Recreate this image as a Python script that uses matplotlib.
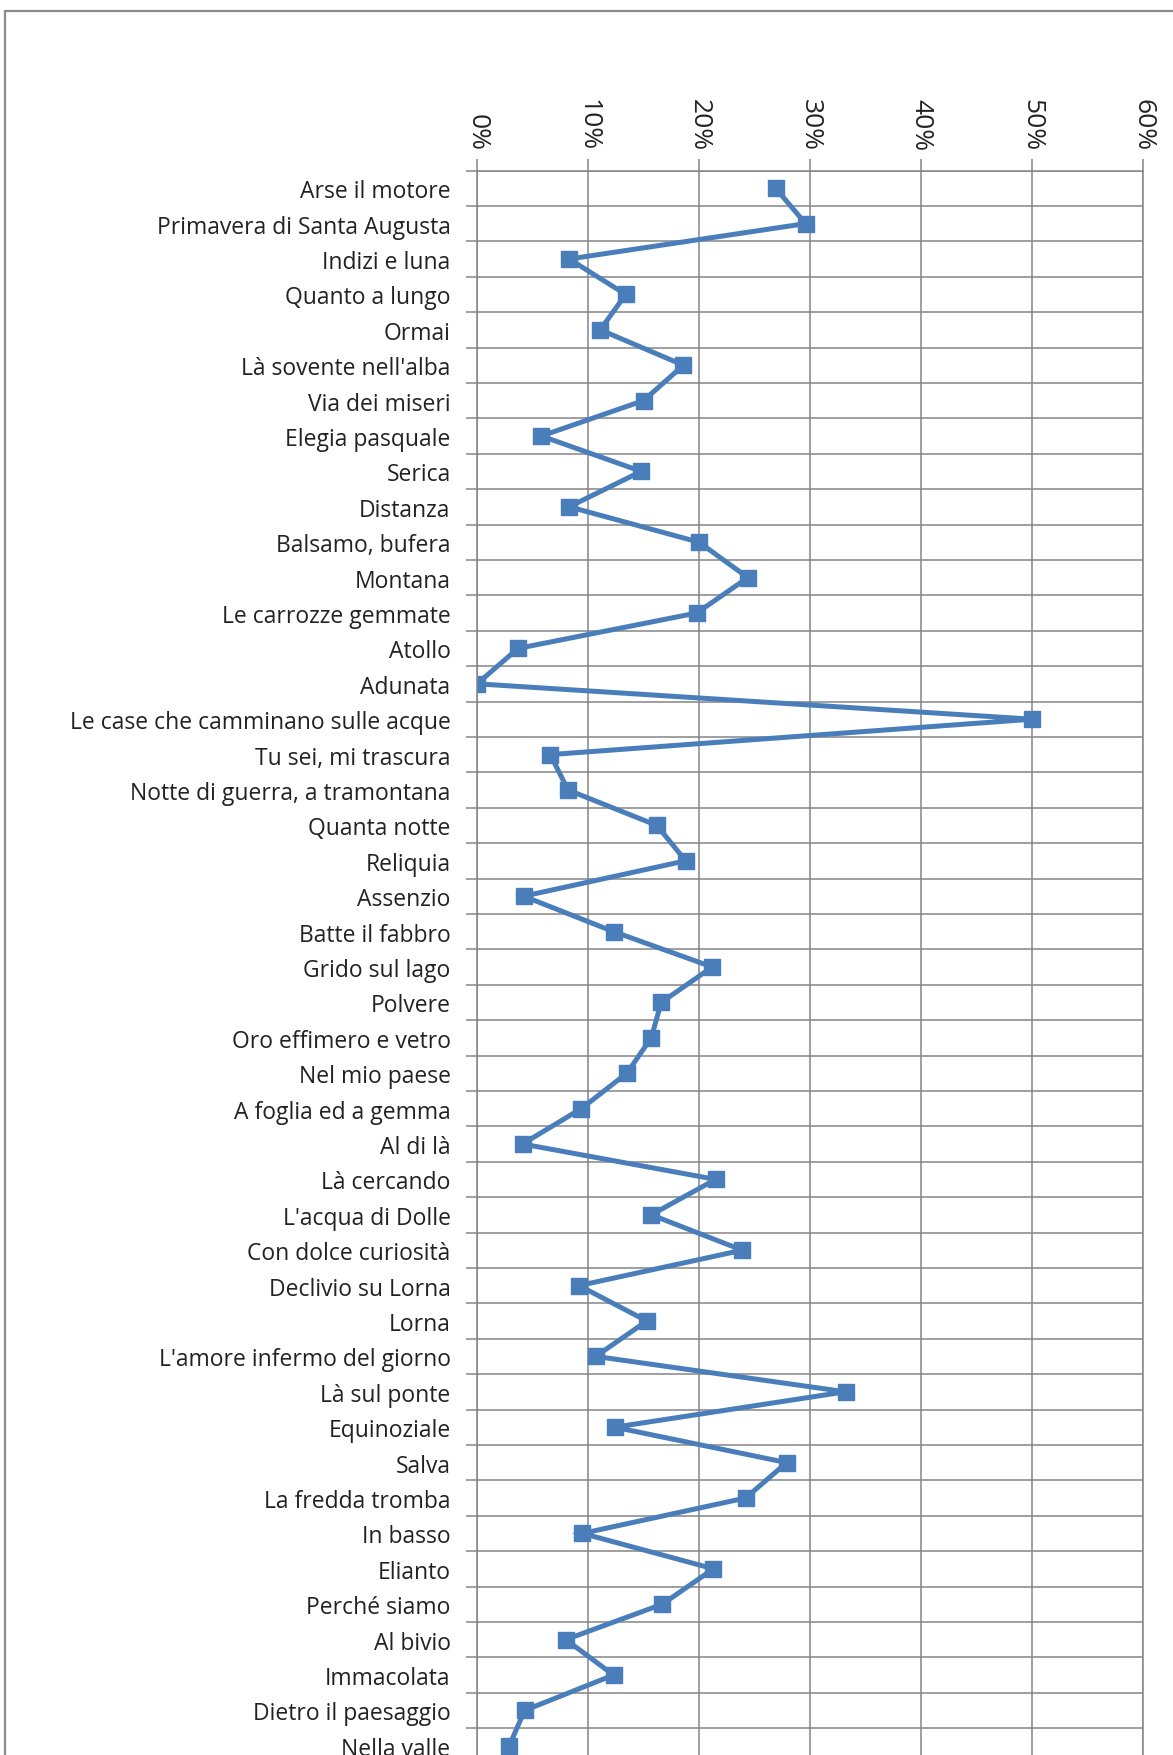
import matplotlib.pyplot as plt
from matplotlib.patches import Rectangle
from matplotlib.ticker import PercentFormatter, FixedLocator

titles = ['Arse il motore', 'Primavera di Santa Augusta', 'Indizi e luna', 'Quanto a lungo',
          'Ormai', "Là sovente nell'alba", 'Via dei miseri', 'Elegia pasquale', 'Serica',
          'Distanza', 'Balsamo, bufera', 'Montana', 'Le carrozze gemmate', 'Atollo', 'Adunata',
          'Le case che camminano sulle acque', 'Tu sei, mi trascura',
          'Notte di guerra, a tramontana', 'Quanta notte', 'Reliquia', 'Assenzio',
          'Batte il fabbro', 'Grido sul lago', 'Polvere', 'Oro effimero e vetro',
          'Nel mio paese', 'A foglia ed a gemma', 'Al di là', 'Là cercando',
          "L'acqua di Dolle", 'Con dolce curiosità', 'Declivio su Lorna', 'Lorna',
          "L'amore infermo del giorno", 'Là sul ponte', 'Equinoziale', 'Salva',
          'La fredda tromba', 'In basso', 'Elianto', 'Perché siamo', 'Al bivio',
          'Immacolata', 'Dietro il paesaggio', 'Nella valle']

values = [26.9, 29.6, 8.3, 13.4, 11.1, 18.6, 15.0, 5.8, 14.8, 8.3,
          20.0, 24.4, 19.8, 3.7, 0.0, 50.0, 6.6, 8.2, 16.2, 18.8,
          4.2, 12.3, 21.2, 16.6, 15.7, 13.5, 9.4, 4.1, 21.5, 15.7,
          23.9, 9.2, 15.3, 10.7, 33.2, 12.4, 27.9, 24.2, 9.5, 21.3,
          16.7, 8.0, 12.3, 4.3, 2.9]

xticks = [0, 10, 20, 30, 40, 50, 60]

grid_c = '#858585'
blue = '#4A7EBB'

plt.rcParams['font.family'] = ['Open Sans', 'DejaVu Sans']

W, H = 1173, 1756
fig = plt.figure(figsize=(W / 100, H / 100), dpi=100)

# outer chart frame (cut off at right and bottom like the screenshot)
fig.add_artist(Rectangle((5 / W, -0.2), 2, 1.2 - 12 / H, transform=fig.transFigure,
                         fill=False, edgecolor='#8a8a8a', lw=1.6))

n = len(titles)
row = 35.4
top = 171.5
ax = fig.add_axes([477 / W, 1 - (top + n * row) / H, 666 / W, n * row / H])

pos = list(range(n))
ax.plot(values, pos, color=blue, lw=3.6, marker='s', ms=11.5,
        mfc=blue, mec=blue, solid_joinstyle='miter')

ax.set_xlim(0, 60)
ax.set_ylim(n - 0.5, -0.5)

ax.xaxis.tick_top()
ax.set_xticks(xticks)
ax.xaxis.set_major_formatter(PercentFormatter(xmax=100, decimals=0))
ax.tick_params(axis='x', which='major', direction='out', length=8.5, width=1.1,
               color=grid_c, pad=6, labelsize=19, labelcolor='#222222',
               labelrotation=-90)

ax.set_yticks(pos)
ax.set_yticklabels(titles)
ax.yaxis.set_minor_locator(FixedLocator([i - 0.5 for i in range(n + 1)]))
ax.tick_params(axis='y', which='major', length=0, pad=19, labelsize=16.5,
               labelcolor='#222222')
ax.tick_params(axis='y', which='minor', direction='out', length=8, width=1.1,
               color=grid_c)

ax.grid(axis='x', which='major', color=grid_c, lw=1.1)
ax.grid(axis='y', which='minor', color=grid_c, lw=1.1)
ax.set_axisbelow(True)

for s in ax.spines.values():
    s.set_color(grid_c)
    s.set_linewidth(1.1)

fig.savefig('out.png', dpi=100)
